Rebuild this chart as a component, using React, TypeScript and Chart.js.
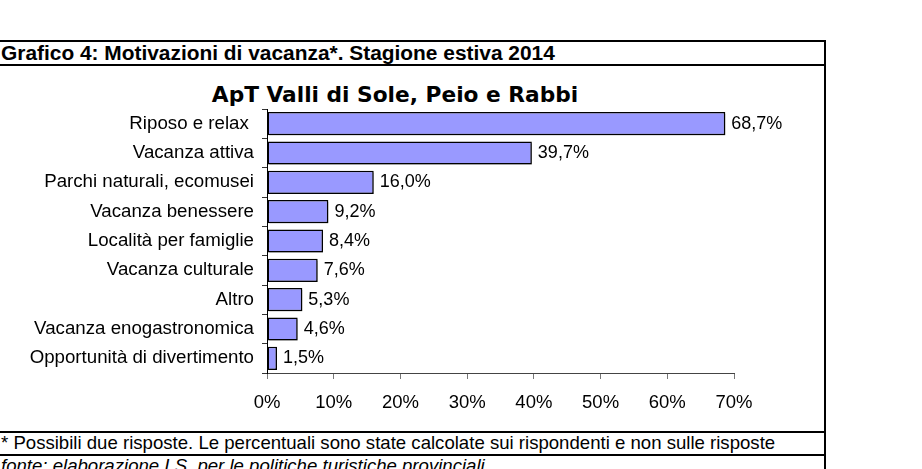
import React, { useEffect, useRef } from "react";
import { Chart, registerables } from "chart.js";

Chart.register(...registerables);

const headerText = "Grafico 4: Motivazioni di vacanza*. Stagione estiva 2014";
const chartTitle = "ApT Valli di Sole, Peio e Rabbi";
const footnote = "* Possibili due risposte. Le percentuali sono state calcolate sui rispondenti e non sulle risposte";
const sourceText = "fonte: elaborazione I.S. per le politiche turistiche provinciali";

const categories = [
  "Riposo e relax ",
  "Vacanza attiva",
  "Parchi naturali, ecomusei",
  "Vacanza benessere",
  "Località per famiglie",
  "Vacanza culturale",
  "Altro",
  "Vacanza enogastronomica",
  "Opportunità di divertimento",
];
const values = [68.7, 39.7, 16.0, 9.2, 8.4, 7.6, 5.3, 4.6, 1.5];
const xMin = 0;
const xMax = 70;
const xStep = 10;

const fmt = (v: number) => v.toFixed(1).replace(".", ",") + "%";
const FONT = "'Liberation Sans', Arial, sans-serif";

export default function App() {
  const ref = useRef<HTMLCanvasElement | null>(null);

  useEffect(() => {
    if (!ref.current) return;
    const shadowPlugin = {
      id: "barShadow",
      beforeDatasetDraw(chart: any) {
        const ctx = chart.ctx;
        ctx.save();
        ctx.shadowColor = "rgba(0,0,0,0.3)";
        ctx.shadowOffsetX = 2;
        ctx.shadowOffsetY = 2;
        ctx.shadowBlur = 0;
      },
      afterDatasetDraw(chart: any) {
        chart.ctx.restore();
      },
    };
    const labelPlugin = {
      id: "valueLabels",
      afterDatasetsDraw(chart: any) {
        const ctx = chart.ctx;
        const meta = chart.getDatasetMeta(0);
        ctx.save();
        ctx.font = `18px ${FONT}`;
        ctx.fillStyle = "#000";
        ctx.textAlign = "left";
        ctx.textBaseline = "middle";
        meta.data.forEach((el: any, i: number) => {
          ctx.fillText(fmt(values[i]), el.x + 6, el.y);
        });
        ctx.restore();
      },
    };
    const chart = new Chart(ref.current, {
      type: "bar",
      data: {
        labels: categories,
        datasets: [
          {
            data: values,
            backgroundColor: "#9999FF",
            borderColor: "#000",
            borderWidth: 1.5,
            borderSkipped: false,
            categoryPercentage: 0.79,
            barPercentage: 1,
          },
        ],
      },
      options: {
        indexAxis: "y",
        animation: false,
        responsive: false,
        maintainAspectRatio: false,
        layout: { padding: { top: 42, right: 91, left: 0, bottom: 0 } },
        plugins: {
          legend: { display: false },
          tooltip: { enabled: false },
          title: { display: false },
        },
        scales: {
          x: {
            min: xMin,
            max: xMax,
            ticks: {
              stepSize: xStep,
              callback: (v: any) => v + "%",
              font: { family: FONT, size: 18.5 },
              color: "#000",
              padding: 13,
            },
            grid: { drawOnChartArea: false, tickLength: 6, color: "#777" },
            border: { color: "#444", width: 1 },
            afterFit(scale: any) {
              scale.height = 57;
            },
          },
          y: {
            ticks: {
              font: { family: FONT, size: 18.7 },
              color: "#000",
              padding: 8,
            },
            grid: { drawOnChartArea: false, offset: true, tickLength: 5, color: "#333" },
            border: { color: "#000", width: 1 },
            afterFit(scale: any) {
              scale.width = 267;
            },
          },
        },
      },
      plugins: [shadowPlugin, labelPlugin],
    } as any);
    return () => chart.destroy();
  }, []);

  const line = (top: number, h = 2): React.CSSProperties => ({
    position: "absolute",
    left: 0,
    top,
    width: 826,
    height: h,
    background: "#000",
  });

  return (
    <div style={{ position: "absolute", left: 0, top: 0, width: 922, height: 469, overflow: "hidden", background: "#fff" }}>
      <div style={line(40)} />
      <div
        style={{
          position: "absolute",
          left: 1,
          top: 41,
          fontFamily: FONT,
          fontWeight: "bold",
          fontSize: 20.9,
          lineHeight: "24px",
          color: "#000",
          whiteSpace: "nowrap",
        }}
      >
        {headerText}
      </div>
      <div style={line(64)} />
      <div style={{ position: "absolute", left: 824, top: 40, width: 2, height: 429, background: "#000" }} />
      <div
        style={{
          position: "absolute",
          left: 0,
          width: 790,
          top: 80,
          textAlign: "center",
          fontFamily: "'DejaVu Sans', Verdana, sans-serif",
          fontWeight: "bold",
          fontSize: 21.7,
          lineHeight: "30px",
          color: "#000",
          whiteSpace: "nowrap",
        }}
      >
        {chartTitle}
      </div>
      <canvas ref={ref} width={825} height={363} style={{ position: "absolute", left: 0, top: 67, width: 825, height: 363 }} />
      <div style={line(431)} />
      <div
        style={{
          position: "absolute",
          left: 1,
          top: 432,
          fontFamily: FONT,
          fontSize: 18.6,
          lineHeight: "22px",
          color: "#000",
          whiteSpace: "nowrap",
        }}
      >
        {footnote}
      </div>
      <div style={line(454)} />
      <div
        style={{
          position: "absolute",
          left: 1,
          top: 455,
          fontFamily: FONT,
          fontStyle: "italic",
          fontSize: 18.6,
          lineHeight: "22px",
          color: "#000",
          whiteSpace: "nowrap",
        }}
      >
        {sourceText}
      </div>
    </div>
  );
}
